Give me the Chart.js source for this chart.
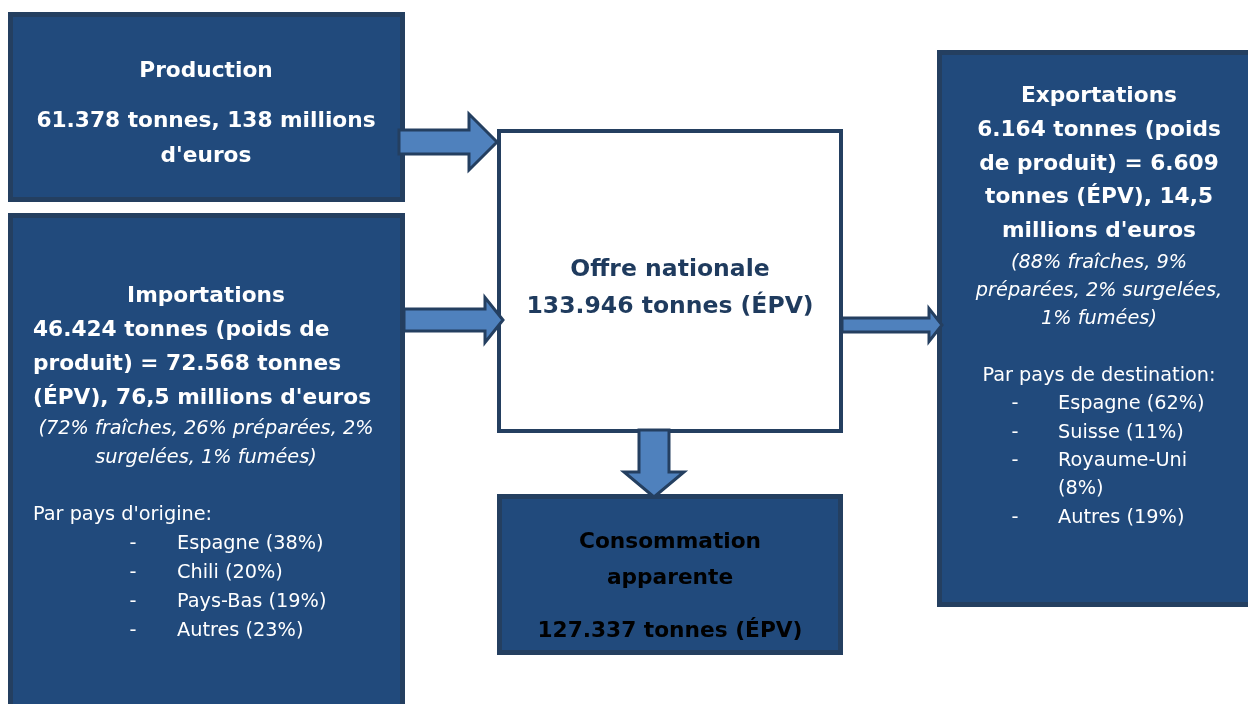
<!DOCTYPE html>
<html>
<head>
<meta charset="utf-8">
<script src="https://cdn.jsdelivr.net/npm/chart.js@4.4.1/dist/chart.umd.min.js"></script>
<style>
  html, body { margin: 0; padding: 0; background: #fff; }
  canvas { display: block; }
</style>
</head>
<body>
<canvas id="schema" width="1248" height="704"></canvas>
<script>
// flux : Production, Importations, Exportations
const flux = ['Production', 'Importations', 'Exportations'];
const tonnesPoidsProduit = [61378, 46424, 6164];
const tonnesEPV = [61378, 72568, 6609];
const millionsEuros = [138, 76.5, 14.5];
const offreNationale = 133946;
const consommationApparente = 127337;

const presentations = ['fraîches', 'préparées', 'surgelées', 'fumées'];
const partsImport = [72, 26, 2, 1];
const partsExport = [88, 9, 2, 1];

const paysOrigine = ['Espagne', 'Chili', 'Pays-Bas', 'Autres'];
const partsOrigine = [38, 20, 19, 23];
const paysDestination = ['Espagne', 'Suisse', 'Royaume-Uni', 'Autres'];
const partsDestination = [62, 11, 8, 19];

const fmtT = n => String(n).replace(/\B(?=(\d{3})+(?!\d))/g, '.');
const fmtE = n => String(n).replace('.', ',');

const FOND = '#214a7c';
const BORD = '#243f60';
const FLECHE = '#4f81bd';
const POLICE = '"DejaVu Sans", "Noto Sans", sans-serif';
const gras = s => `bold ${s}px ${POLICE}`;
const normal = s => `${s}px ${POLICE}`;
const italique = s => `italic ${s}px ${POLICE}`;

// boites [x0, y0, x1, y1] en coordonnées du schéma
const boites = {
  prod: [8, 12, 405, 202],
  imp: [8, 213, 405, 712],
  offre: [497, 129, 843, 433],
  conso: [497, 494, 843, 655],
  exp: [937, 50, 1256, 607]
};

const schemaPlugin = {
  id: 'schema',
  afterDraw(chart) {
    const ctx = chart.ctx;
    const sx = chart.scales.x, sy = chart.scales.y;
    const X = v => sx.getPixelForValue(v);
    const Y = v => sy.getPixelForValue(v);

    function boite(b, fill, lw) {
      const x0 = X(b[0]), y0 = Y(b[1]), x1 = X(b[2]), y1 = Y(b[3]);
      ctx.save();
      ctx.fillStyle = fill;
      ctx.fillRect(x0, y0, x1 - x0, y1 - y0);
      ctx.strokeStyle = BORD;
      ctx.lineWidth = lw;
      ctx.strokeRect(x0 + lw / 2, y0 + lw / 2, x1 - x0 - lw, y1 - y0 - lw);
      ctx.restore();
    }

    function flecheDroite(x0, tip, yc, tige, tete, lt) {
      const xb = tip - lt;
      ctx.save();
      ctx.beginPath();
      ctx.moveTo(X(x0), Y(yc - tige / 2));
      ctx.lineTo(X(xb), Y(yc - tige / 2));
      ctx.lineTo(X(xb), Y(yc - tete / 2));
      ctx.lineTo(X(tip), Y(yc));
      ctx.lineTo(X(xb), Y(yc + tete / 2));
      ctx.lineTo(X(xb), Y(yc + tige / 2));
      ctx.lineTo(X(x0), Y(yc + tige / 2));
      ctx.closePath();
      ctx.fillStyle = FLECHE;
      ctx.fill();
      ctx.strokeStyle = BORD;
      ctx.lineWidth = 3;
      ctx.lineJoin = 'miter';
      ctx.stroke();
      ctx.restore();
    }

    function flecheBas(xc, y0, tip, tige, tete, lt) {
      const yb = tip - lt;
      ctx.save();
      ctx.beginPath();
      ctx.moveTo(X(xc - tige / 2), Y(y0));
      ctx.lineTo(X(xc - tige / 2), Y(yb));
      ctx.lineTo(X(xc - tete / 2), Y(yb));
      ctx.lineTo(X(xc), Y(tip));
      ctx.lineTo(X(xc + tete / 2), Y(yb));
      ctx.lineTo(X(xc + tige / 2), Y(yb));
      ctx.lineTo(X(xc + tige / 2), Y(y0));
      ctx.closePath();
      ctx.fillStyle = FLECHE;
      ctx.fill();
      ctx.strokeStyle = BORD;
      ctx.lineWidth = 3;
      ctx.stroke();
      ctx.restore();
    }

    function texte(lignes, couleur) {
      ctx.save();
      ctx.fillStyle = couleur;
      ctx.textBaseline = 'middle';
      lignes.forEach(l => {
        ctx.font = l[3];
        ctx.textAlign = l[4] || 'center';
        ctx.fillText(l[0], X(l[1]), Y(l[2]));
      });
      ctx.restore();
    }

    boite(boites.prod, FOND, 5);
    boite(boites.imp, FOND, 5);
    boite(boites.offre, '#ffffff', 4);
    boite(boites.conso, FOND, 5);
    boite(boites.exp, FOND, 5);

    flecheDroite(399, 497, 142, 24, 56, 28);
    flecheDroite(404, 503, 320, 22, 45, 18);
    flecheDroite(842, 942, 325, 14, 33, 13);
    flecheBas(654, 430, 497, 30, 60, 25);

    const B = gras(21.7), N = normal(19.3), I = italique(19.3);

    // Production
    texte([
      [flux[0], 206, 71, B],
      [`${fmtT(tonnesPoidsProduit[0])} tonnes, ${fmtE(millionsEuros[0])} millions`, 206, 121, B],
      ["d'euros", 206, 156, B]
    ], '#ffffff');

    // Importations
    const imp = [
      [flux[1], 206, 296, B],
      [`${fmtT(tonnesPoidsProduit[1])} tonnes (poids de`, 33, 330, B, 'left'],
      [`produit) = ${fmtT(tonnesEPV[1])} tonnes`, 33, 364, B, 'left'],
      [`(ÉPV), ${fmtE(millionsEuros[1])} millions d'euros`, 33, 398, B, 'left'],
      [`(${partsImport[0]}% ${presentations[0]}, ${partsImport[1]}% ${presentations[1]}, ${partsImport[2]}%`, 206, 429, I],
      [`${presentations[2]}, ${partsImport[3]}% ${presentations[3]})`, 206, 458, I],
      ["Par pays d'origine:", 33, 515, N, 'left']
    ];
    paysOrigine.forEach((p, i) => {
      imp.push(['-', 133, 544 + i * 29, N]);
      imp.push([`${p} (${partsOrigine[i]}%)`, 177, 544 + i * 29, N, 'left']);
    });
    texte(imp, '#ffffff');

    // Offre nationale
    texte([
      ['Offre nationale', 670, 270, gras(23.5)],
      [`${fmtT(offreNationale)} tonnes (ÉPV)`, 670, 307, gras(23.5)]
    ], '#1f3b5e');

    // Consommation apparente
    texte([
      ['Consommation', 670, 542, B],
      ['apparente', 670, 578, B],
      [`${fmtT(consommationApparente)} tonnes (ÉPV)`, 670, 631, B]
    ], '#000000');

    // Exportations
    const exp = [
      [flux[2], 1099, 96, B],
      [`${fmtT(tonnesPoidsProduit[2])} tonnes (poids`, 1099, 130, B],
      [`de produit) = ${fmtT(tonnesEPV[2])}`, 1099, 164, B],
      [`tonnes (ÉPV), ${fmtE(millionsEuros[2])}`, 1099, 197, B],
      ["millions d'euros", 1099, 231, B],
      [`(${partsExport[0]}% ${presentations[0]}, ${partsExport[1]}%`, 1099, 263, I],
      [`${presentations[1]}, ${partsExport[2]}% ${presentations[2]},`, 1099, 291, I],
      [`${partsExport[3]}% ${presentations[3]})`, 1099, 319, I],
      ['Par pays de destination:', 1099, 376, N]
    ];
    let ly = 404;
    paysDestination.forEach((p, i) => {
      exp.push(['-', 1015, ly, N]);
      if (p === 'Royaume-Uni') {
        exp.push([p, 1058, ly, N, 'left']);
        ly += 28;
        exp.push([`(${partsDestination[i]}%)`, 1058, ly, N, 'left']);
      } else {
        exp.push([`${p} (${partsDestination[i]}%)`, 1058, ly, N, 'left']);
      }
      ly += 28.5;
    });
    texte(exp, '#ffffff');
  }
};

new Chart(document.getElementById('schema'), {
  type: 'scatter',
  data: { datasets: [] },
  options: {
    responsive: false,
    devicePixelRatio: 1,
    animation: false,
    layout: { padding: 0 },
    plugins: { legend: { display: false }, tooltip: { enabled: false } },
    scales: {
      x: { type: 'linear', min: 0, max: 1248, display: false },
      y: { type: 'linear', min: 0, max: 704, reverse: true, display: false }
    }
  },
  plugins: [schemaPlugin]
});
</script>
</body>
</html>
